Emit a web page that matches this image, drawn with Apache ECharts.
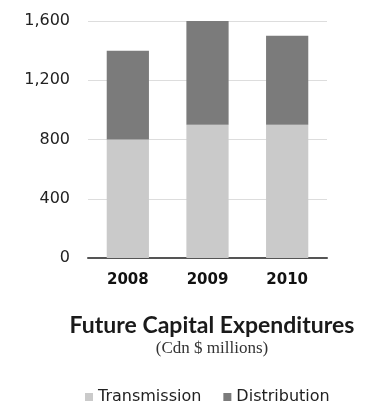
<!DOCTYPE html>
<html>
<head>
<meta charset="utf-8">
<script src="https://cdn.jsdelivr.net/npm/echarts@6/dist/echarts.min.js"></script>
<style>
  html, body { margin: 0; padding: 0; background: #fff; }
  #chart { width: 370px; height: 402px; }
</style>
</head>
<body>
<div id="chart"></div>
<script>
const years = ['2008', '2009', '2010'];
const transmission = [800, 900, 900];
const distribution = [600, 700, 600];
const yTicks = [0, 400, 800, 1200, 1600];

const chart = echarts.init(document.getElementById('chart'));

chart.setOption({
  animation: false,
  title: [
    {
      text: 'Future Capital Expenditures',
      left: 207,
      top: 309,
      textAlign: 'center',
      textStyle: { fontFamily: 'Lato', fontWeight: 'bold', fontSize: 23, color: '#1a1a1a' },
    },
    {
      text: '(Cdn $ millions)',
      left: 207,
      top: 335,
      textAlign: 'center',
      textStyle: { fontFamily: 'Liberation Serif', fontWeight: 'normal', fontSize: 17, color: '#333' },
    },
  ],
  legend: {
    top: 384,
    left: 80,
    itemWidth: 8,
    itemHeight: 8,
    itemGap: 22,
    icon: 'rect',
    textStyle: { fontFamily: 'DejaVu Sans', fontSize: 16, color: '#222' },
    data: ['Transmission', 'Distribution'],
  },
  grid: { left: 88, right: 43, top: 21, bottom: 144 },
  xAxis: {
    type: 'category',
    data: years,
    axisTick: { show: false },
    axisLine: { lineStyle: { color: '#555', width: 2 } },
    axisLabel: { fontFamily: 'DejaVu Sans', fontWeight: 'bold', fontSize: 15, color: '#111', margin: 15 },
  },
  yAxis: {
    type: 'value',
    min: yTicks[0],
    max: yTicks[yTicks.length - 1],
    interval: 400,
    axisLine: { show: false },
    axisTick: { show: false },
    axisLabel: {
      fontFamily: 'DejaVu Sans',
      fontSize: 16,
      color: '#222',
      margin: 18,
      formatter: (v) => v.toLocaleString('en-US'),
    },
    splitLine: { lineStyle: { color: '#ddd' } },
  },
  series: [
    {
      name: 'Transmission',
      type: 'bar',
      stack: 'total',
      barWidth: '53%',
      itemStyle: { color: '#cacaca' },
      data: transmission,
    },
    {
      name: 'Distribution',
      type: 'bar',
      stack: 'total',
      barWidth: '53%',
      itemStyle: { color: '#7b7b7b' },
      data: distribution,
    },
  ],
});
</script>
</body>
</html>
